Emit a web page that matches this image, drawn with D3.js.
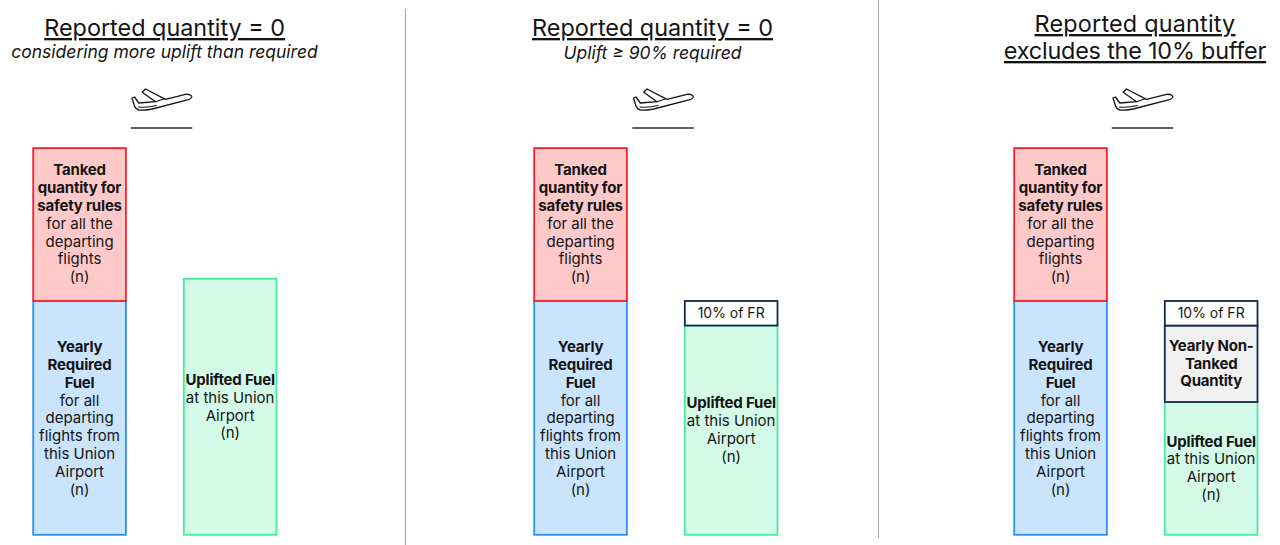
<!DOCTYPE html>
<html>
<head>
<meta charset="utf-8">
<script src="https://cdn.jsdelivr.net/npm/d3@7/dist/d3.min.js"></script>
<style>
  html, body { margin: 0; padding: 0; background: #fff; }
  svg { display: block; }
  text { font-family: "Inter", "Open Sans", sans-serif; fill: #141414; }
</style>
</head>
<body>
<svg id="chart" width="1280" height="545"></svg>
<script>
// Quantities, expressed as a percentage of the Yearly Required Fuel
const requiredFuel = 100;
const tankedQuantity = 65.4;
const upliftPanelA = 109.5;
const upliftPanelB = 89.5;
const bufferPanelB = 10.5;
const upliftPanelC = 56.8;
const nonTankedPanelC = 32.7;
const bufferPanelC = 10.5;

const tankedLines = [["Tanked", 1], ["quantity for", 1], ["safety rules", 1], ["for all the", 0], ["departing", 0], ["flights", 0], ["(n)", 0]];
const requiredLines = [["Yearly", 1], ["Required", 1], ["Fuel", 1], ["for all", 0], ["departing", 0], ["flights from", 0], ["this Union", 0], ["Airport", 0], ["(n)", 0]];
const upliftLines = [["Uplifted Fuel", 1], ["at this Union", 0], ["Airport", 0], ["(n)", 0]];
const bufferLines = [["10% of FR", 0]];
const nonTankedLines = [["Yearly Non-", 1], ["Tanked", 1], ["Quantity", 1]];

const palette = {
  tanked: { fill: "#ffc9c9", stroke: "#fa1e2a" },
  required: { fill: "#cbe4fd", stroke: "#2b91f0" },
  uplift: { fill: "#d4fbe8", stroke: "#45eb9d" },
  buffer: { fill: "#ffffff", stroke: "#16294d" },
  nonTanked: { fill: "#f1f1f1", stroke: "#16294d" }
};

const panels = [
  {
    left: 33.2, planeX: 161.5,
    title: [["Reported quantity = 0", 36, 164.7, 0]],
    subtitle: ["considering more uplift than required", 58, 164.5],
    right: [{ key: "uplift", value: upliftPanelA, lines: upliftLines }]
  },
  {
    left: 534.2, planeX: 663,
    title: [["Reported quantity = 0", 36, 652.5, 0]],
    subtitle: ["Uplift \u2265 90% required", 59, 652.5],
    right: [
      { key: "uplift", value: upliftPanelB, lines: upliftLines },
      { key: "buffer", value: bufferPanelB, lines: bufferLines }
    ]
  },
  {
    left: 1014.2, planeX: 1142.5,
    title: [["Reported quantity", 32, 1135, 0.2], ["excludes the 10% buffer", 59, 1135, -0.2]],
    right: [
      { key: "uplift", value: upliftPanelC, lines: upliftLines },
      { key: "nonTanked", value: nonTankedPanelC, lines: nonTankedLines },
      { key: "buffer", value: bufferPanelC, lines: bufferLines }
    ]
  }
];

const y = d3.scaleLinear().domain([0, requiredFuel]).range([534.8, 301]);
const barWidth = 92.7;
const rightOffset = 150.6;
const lineHeight = 17.8;
const textShift = { tanked: -1, required: 0.2 };

const svg = d3.select("#chart");

// Vertical separators between the three cases
svg.selectAll("line.sep")
  .data([[405.5, 9, 545], [878.5, 0, 538]])
  .join("line")
  .attr("class", "sep")
  .attr("x1", d => d[0]).attr("x2", d => d[0])
  .attr("y1", d => d[1]).attr("y2", d => d[2])
  .attr("stroke", "#a6a6a6").attr("stroke-width", 1);

function drawStack(g, x, segments) {
  let base = 0;
  // Stacked bottom to top, so each upper segment's outline sits on the shared edge
  const laid = segments.map(s => {
    const seg = { ...s, y0: y(base), y1: y(base + s.value) };
    base += s.value;
    return seg;
  });
  laid.forEach(s => {
    const c = palette[s.key];
    g.append("rect")
      .attr("x", x).attr("y", s.y1)
      .attr("width", barWidth).attr("height", s.y0 - s.y1)
      .attr("fill", c.fill).attr("stroke", c.stroke).attr("stroke-width", 1.8);
  });
  laid.forEach(s => {
    const mid = (s.y0 + s.y1) / 2;
    const shift = textShift[s.key] ?? -0.4;
    const start = mid - (s.lines.length - 1) * lineHeight / 2 + shift;
    s.lines.forEach((ln, i) => {
      g.append("text")
        .attr("x", x + barWidth / 2)
        .attr("y", start + i * lineHeight)
        .attr("dy", "0.35em")
        .attr("text-anchor", "middle")
        .attr("font-size", s.key === "buffer" ? 14 : 15)
        .attr("letter-spacing", ln[1] ? -0.2 : 0)
        .attr("font-weight", ln[1] ? 700 : 400)
        .text(ln[0]);
    });
  });
}

function drawPlane(g, cx) {
  // Departing aircraft glyph above a short runway stroke
  const plane = g.append("g").attr("transform", `translate(${cx},99)`);
  plane.append("path")
    .attr("d", "M-29.5,-1 L-27,-2 L-22.7,4 L-6,2.7 L-19.3,-6.7 L-16,-10 L4,0.3 L24,-4.7 C29,-5 31,-3 30,-1.5 C29,0 27,1 25,1.2 L-9.3,10 C-15,11 -20,11.5 -22.7,11 C-25,10.5 -26,9.3 -27,7 Z")
    .attr("fill", "#fff").attr("stroke", "#141414").attr("stroke-width", 1.3).attr("stroke-linejoin", "round");
  plane.append("path")
    .attr("d", "M-6,2.7 L2,0 M-23,8 C-17,8.6 -11,8 -5,6.5")
    .attr("fill", "none").attr("stroke", "#141414").attr("stroke-width", 1.1).attr("stroke-linecap", "round");
  g.append("line")
    .attr("x1", cx - 30.7).attr("x2", cx + 30.7)
    .attr("y1", 128).attr("y2", 128)
    .attr("stroke", "#2a2a2a").attr("stroke-width", 1.5);
}

panels.forEach(p => {
  const g = svg.append("g");
  p.title.forEach(t => {
    g.append("text")
      .attr("x", t[2]).attr("y", t[1])
      .attr("text-anchor", "middle")
      .attr("font-size", 23.4)
      .attr("letter-spacing", t[3])
      .attr("text-decoration", "underline")
      .text(t[0]);
  });
  if (p.subtitle) {
    g.append("text")
      .attr("x", p.subtitle[2]).attr("y", p.subtitle[1])
      .attr("text-anchor", "middle")
      .attr("font-size", 17.5)
      .attr("font-style", "italic")
      .text(p.subtitle[0]);
  }
  drawPlane(g, p.planeX);
  drawStack(g, p.left, [
    { key: "required", value: requiredFuel, lines: requiredLines },
    { key: "tanked", value: tankedQuantity, lines: tankedLines }
  ]);
  drawStack(g, p.left + rightOffset, p.right);
});
</script>
</body>
</html>
